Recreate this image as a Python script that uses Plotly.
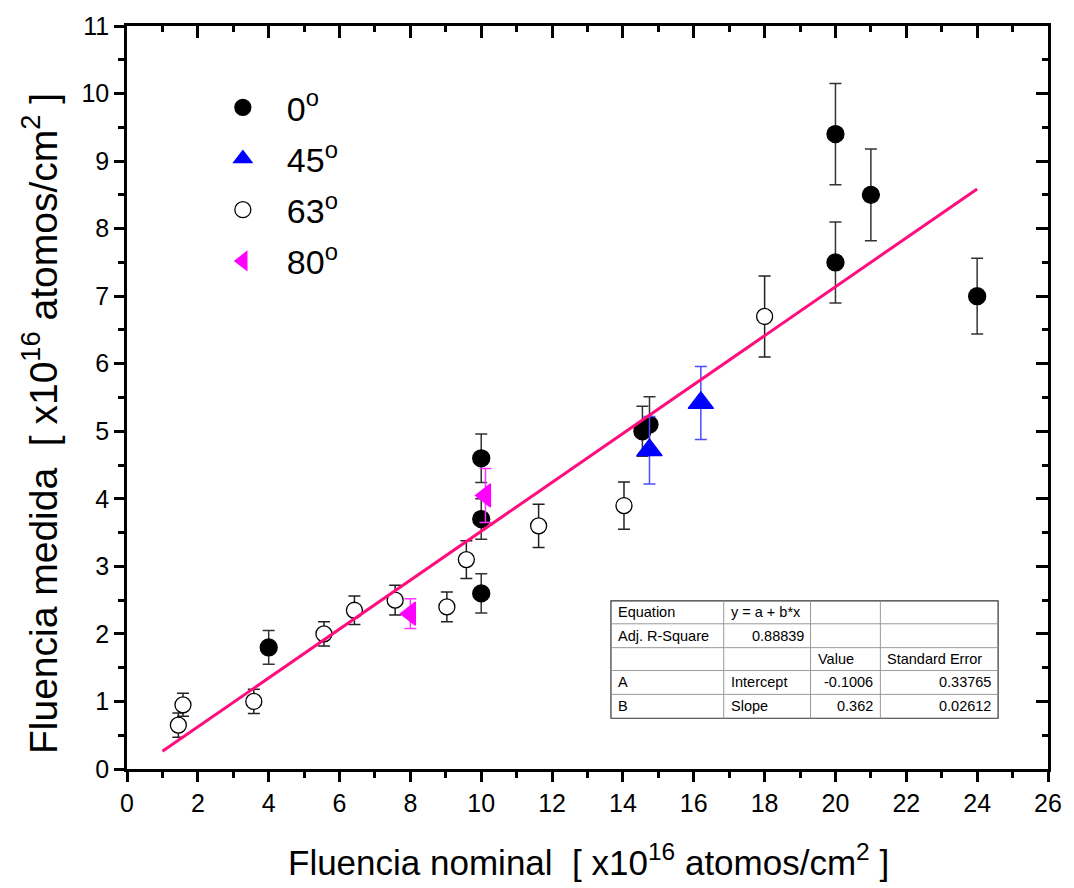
import plotly.graph_objects as go

# Measured vs nominal fluence, grouped by incidence angle
x_0 = [4.0, 10.0, 10.0, 10.0, 14.55, 14.75, 20.0, 20.0, 21.0, 24.0]
y_0 = [1.8, 4.6, 3.7, 2.6, 5.0, 5.1, 9.4, 7.5, 8.5, 7.0]
e_0 = [0.25, 0.36, 0.3, 0.29, 0.37, 0.41, 0.75, 0.6, 0.68, 0.56]

x_45 = [14.75, 16.2]
y_45 = [4.72, 5.42]
e_45 = [0.5, 0.54]

x_63 = [1.45, 1.58, 3.58, 5.56, 6.42, 7.57, 9.03, 9.58, 11.62, 14.03, 18.0]
y_63 = [0.65, 0.95, 1.0, 2.0, 2.35, 2.5, 2.4, 3.1, 3.6, 3.9, 6.7]
e_63 = [0.18, 0.17, 0.18, 0.18, 0.21, 0.22, 0.22, 0.28, 0.32, 0.35, 0.6]

x_80 = [8.0, 10.12]
y_80 = [2.3, 4.05]
e_80 = [0.22, 0.4]

# Linear fit results (y = a + b*x)
fit_a = -0.1006
fit_b = 0.362
fit_x = [1.0, 24.0]

table_rows = [
    ["Equation", "y = a + b*x", "", ""],
    ["Adj. R-Square", "0.88839", "", ""],
    ["", "", "Value", "Standard Error"],
    ["A", "Intercept", "-0.1006", "0.33765"],
    ["B", "Slope", "0.362", "0.02612"],
]

x_title = "Fluencia nominal  [ x10<sup>16</sup> atomos/cm<sup>2</sup> ]"
y_title = "Fluencia medida  [ x10<sup>16</sup> atomos/cm<sup>2</sup> ]"

FONT = "Liberation Sans, Arial, sans-serif"
W, H = 1074, 888
ML, MR, MT, MB = 127, 24, 22, 119
PW, PH = W - ML - MR, H - MT - MB


def px(xp):
    return (xp - ML) / PW


def py(yp):
    return (H - MB - yp) / PH


fig = go.Figure()


def add_series(x, y, e, name, symbol, size, fill, line_col, err_col, group):
    fig.add_trace(go.Scatter(
        x=x, y=y, mode="markers", name=name, legendgroup=group,
        marker=dict(symbol=symbol, size=size, color=fill,
                    line=dict(color=line_col, width=1.3)),
        error_y=dict(type="data", array=e, visible=True, color=err_col,
                     thickness=1.5, width=6),
        hoverinfo="skip",
    ))


add_series(x_0, y_0, e_0, "0<sup>o</sup>", "circle", 17, "black", "black", "#333333", "g0")
add_series(x_45, y_45, e_45, "45<sup>o</sup>", "triangle-up", 22, "#0000ff", "#0000ff", "#4d4dff", "g45")
add_series(x_63, y_63, e_63, "63<sup>o</sup>", "circle", 16, "white", "black", "#222222", "g63")
add_series(x_80, y_80, e_80, "80<sup>o</sup>", "triangle-left", 20, "#ff00ff", "#ff00ff", "#ff33ff", "g80")

fig.add_trace(go.Scatter(
    x=fit_x, y=[fit_a + fit_b * v for v in fit_x], mode="lines",
    line=dict(color="#ff0d7e", width=3), showlegend=False, hoverinfo="skip",
))

# helper trace so the top/right overlay axes are drawn
fig.add_trace(go.Scatter(x=[0], y=[0], xaxis="x2", yaxis="y2", mode="markers",
                         marker=dict(opacity=0), showlegend=False, hoverinfo="skip"))

axis_common = dict(showline=True, linecolor="black", linewidth=2.5, showgrid=False,
                   zeroline=False, tickcolor="black", tickwidth=2.5,
                   tickfont=dict(family=FONT, size=25, color="black"))

fig.update_layout(
    width=W, height=H,
    margin=dict(l=ML, r=MR, t=MT, b=MB),
    paper_bgcolor="white", plot_bgcolor="white",
    font=dict(family=FONT, color="black"),
    xaxis=dict(range=[0, 26], dtick=2, tick0=0, ticks="outside", ticklen=10,
               minor=dict(dtick=1, ticks="outside", ticklen=6, tickwidth=2.5, tickcolor="black"),
               **axis_common),
    yaxis=dict(range=[0, 11], dtick=1, tick0=0, ticks="outside", ticklen=10,
               minor=dict(dtick=0.5, ticks="outside", ticklen=6, tickwidth=2.5, tickcolor="black"),
               **axis_common),
    xaxis2=dict(range=[0, 26], overlaying="x", side="top", dtick=2, tick0=0,
                ticks="inside", ticklen=12, showticklabels=False,
                minor=dict(dtick=1, ticks="inside", ticklen=6, tickwidth=2.5, tickcolor="black"),
                **axis_common),
    yaxis2=dict(range=[0, 11], overlaying="y", side="right", dtick=1, tick0=0,
                ticks="inside", ticklen=12, showticklabels=False,
                minor=dict(dtick=0.5, ticks="inside", ticklen=6, tickwidth=2.5, tickcolor="black"),
                **axis_common),
    legend=dict(x=px(199), y=py(75), xanchor="left", yanchor="top",
                bgcolor="rgba(0,0,0,0)", font=dict(family=FONT, size=34),
                traceorder="grouped", tracegroupgap=4, itemwidth=78,
                itemsizing="trace"),
    showlegend=True,
)

# Fit-parameter table in the lower right of the plot area
col_edges = [612, 725, 812, 882, 1000]
row_edges = [600, 623, 647, 670, 694, 718]
shapes = []
shapes.append(dict(type="rect", xref="paper", yref="paper",
                   x0=px(col_edges[0]), x1=px(col_edges[-1]),
                   y0=py(row_edges[-1]), y1=py(row_edges[0]),
                   line=dict(color="#333333", width=1.2), fillcolor="white", layer="above"))
for c in col_edges[1:-1]:
    shapes.append(dict(type="line", xref="paper", yref="paper", x0=px(c), x1=px(c),
                       y0=py(row_edges[-1]), y1=py(row_edges[0]),
                       line=dict(color="#9a9a9a", width=1), layer="above"))
for r in row_edges[1:-1]:
    shapes.append(dict(type="line", xref="paper", yref="paper",
                       x0=px(col_edges[0]), x1=px(col_edges[-1]), y0=py(r), y1=py(r),
                       line=dict(color="#9a9a9a", width=1), layer="above"))
fig.update_layout(shapes=shapes)

# column alignment: text columns left, numeric cells right
annotations = []
for ri, row in enumerate(table_rows):
    yc = (row_edges[ri] + row_edges[ri + 1]) / 2
    for ci, txt in enumerate(row):
        if not txt:
            continue
        numeric = txt.replace(".", "").replace("-", "").isdigit()
        if numeric:
            xpos, anchor = col_edges[ci + 1] - 5, "right"
        else:
            xpos, anchor = col_edges[ci] + 5, "left"
        annotations.append(dict(text=txt, xref="paper", yref="paper", x=px(xpos), y=py(yc),
                                xanchor=anchor, yanchor="middle", showarrow=False,
                                font=dict(family=FONT, size=14.5, color="black")))

# axis titles
annotations.append(dict(text=x_title, xref="paper", yref="paper", x=px(590), y=py(860),
                        xanchor="center", yanchor="middle", showarrow=False,
                        font=dict(family=FONT, size=35, color="black")))
annotations.append(dict(text=y_title, xref="paper", yref="paper", x=px(40), y=py(422),
                        xanchor="center", yanchor="middle", showarrow=False, textangle=-90,
                        font=dict(family=FONT, size=39, color="black")))
fig.update_layout(annotations=annotations)

fig.write_html("out.html")
